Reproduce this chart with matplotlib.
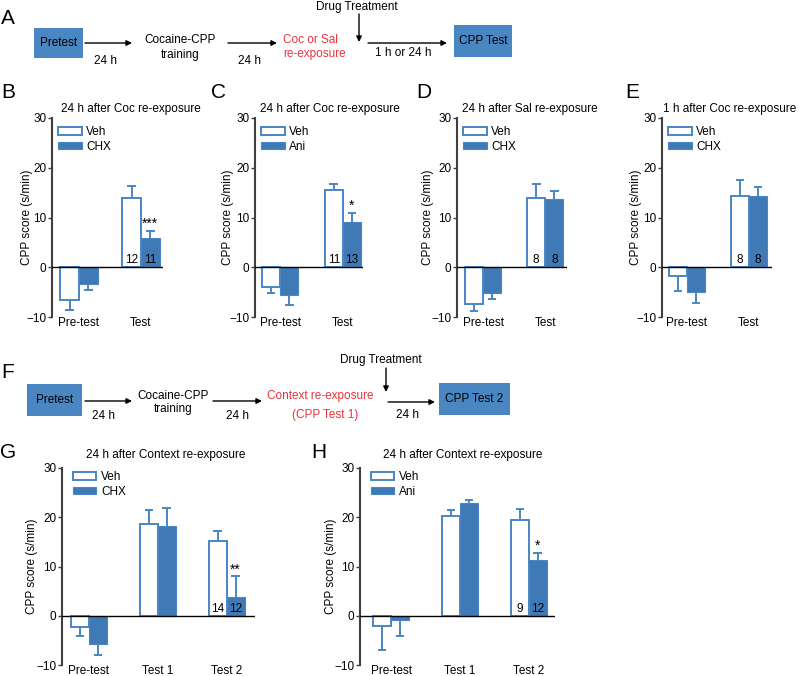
"""Cocaine-CPP reconsolidation figure: protocol schematics + CPP score bars."""

import matplotlib

matplotlib.use("Agg")
import matplotlib.pyplot as plt
import numpy as np
from matplotlib.patches import Patch, Rectangle

plt.rcParams["font.family"] = ["Liberation Sans", "DejaVu Sans"]
plt.rcParams["font.size"] = 8.5

FILL = "#3f7ab6"      # drug bars
EDGE = "#4a86c5"      # bar edges / error bars
BOX = "#4a86c2"       # schematic boxes
RED = "#e8343a"
SPINE = "#404040"

# --- data (CPP score, s/min; one-sided SEM) ---
groups_2 = ["Pre-test", "Test"]
groups_3 = ["Pre-test", "Test 1", "Test 2"]

b_veh = [-6.6, 13.9]
b_veh_err = [1.9, 2.4]
b_drug = [-3.3, 5.9]
b_drug_err = [1.2, 1.4]
b_n = [12, 11]

c_veh = [-3.9, 15.5]
c_veh_err = [1.2, 1.3]
c_drug = [-5.5, 9.0]
c_drug_err = [2.0, 2.0]
c_n = [11, 13]

d_veh = [-7.3, 13.9]
d_veh_err = [1.4, 2.9]
d_drug = [-5.1, 13.7]
d_drug_err = [1.3, 1.7]
d_n = [8, 8]

e_veh = [-1.8, 14.4]
e_veh_err = [2.9, 3.2]
e_drug = [-4.9, 14.4]
e_drug_err = [2.3, 1.7]
e_n = [8, 8]

g_veh = [-2.2, 18.6, 15.2]
g_veh_err = [1.9, 2.9, 2.1]
g_drug = [-5.7, 18.2, 3.8]
g_drug_err = [2.2, 3.6, 4.2]
g_n = [14, 12]

h_veh = [-2.0, 20.3, 19.5]
h_veh_err = [4.9, 1.2, 2.1]
h_drug = [-0.8, 22.8, 11.3]
h_drug_err = [3.3, 0.7, 1.4]
h_n = [9, 12]


def px_axes(fig, left, right, top, bottom):
    W, H = 800, 676
    return fig.add_axes([left / W, 1 - bottom / H, (right - left) / W, (bottom - top) / H])


def bar_panel(ax, labels, veh, veh_err, drug, drug_err, drug_name, n, star,
              width, xlim, ylab_x, leg_y):
    x = np.arange(len(labels))
    veh = np.array(veh); drug = np.array(drug)
    ax.bar(x - width / 2, veh, width, color="white", edgecolor=EDGE, lw=1.4, zorder=2)
    ax.bar(x + width / 2, drug, width, color=FILL, edgecolor=EDGE, lw=0.8, zorder=2)
    cw = width * 0.24
    for xs, m, e in ((x - width / 2, veh, veh_err), (x + width / 2, drug, drug_err)):
        tip = m + np.sign(m) * np.array(e)
        ax.vlines(xs, m, tip, color=EDGE, lw=1.4, zorder=1)
        ax.hlines(tip, xs - cw, xs + cw, color=EDGE, lw=1.4, zorder=1)
    ax.axhline(0, color="black", lw=1.0, zorder=3)

    # n per group inside the last pair of bars
    k = len(labels) - 1
    ax.text(x[k] - width / 2, 0.25, str(n[0]), ha="center", va="bottom", fontsize=8.5, zorder=4)
    ax.text(x[k] + width / 2, 0.25, str(n[1]), ha="center", va="bottom", fontsize=8.5, zorder=4)
    if star:
        top = drug[k] + drug_err[k]
        ax.text(x[k] + width / 2, top, star, ha="center", va="bottom", fontsize=10)

    ax.set_xlim(*xlim)
    ax.set_ylim(-10, 30)
    ax.set_yticks([-10, 0, 10, 20, 30])
    ax.set_xticks(x, labels)
    ax.tick_params(axis="x", length=0, pad=0, labelsize=8.5)
    ax.tick_params(axis="y", length=3, width=1, pad=1, labelsize=8.5, color=SPINE)
    for s in ("top", "right", "bottom"):
        ax.spines[s].set_visible(False)
    ax.spines["left"].set_color(SPINE)
    ax.spines["left"].set_linewidth(1.5)
    ax.set_ylabel("CPP score (s/min)", fontsize=8.5)
    ax.yaxis.set_label_coords(ylab_x, 0.5)
    ax.patch.set_alpha(0)

    handles = [Patch(facecolor="white", edgecolor=EDGE, lw=1.4, label="Veh"),
               Patch(facecolor=FILL, edgecolor=EDGE, lw=0.8, label=drug_name)]
    ax.legend(handles=handles, loc="upper left", bbox_to_anchor=(0.055, leg_y),
              frameon=False, fontsize=8.5, handlelength=2.0, handleheight=0.6,
              handletextpad=0.4, labelspacing=0.25, borderpad=0, borderaxespad=0)


fig = plt.figure(figsize=(8, 6.76), dpi=100)

# overlay for schematics, letters and titles (pixel coordinates)
ov = fig.add_axes([0, 0, 1, 1])
ov.set_xlim(0, 800)
ov.set_ylim(676, 0)
ov.axis("off")


def arrow(x0, y0, x1, y1):
    ov.annotate("", xy=(x1, y1), xytext=(x0, y0),
                arrowprops=dict(arrowstyle="-|>", color="black", lw=1.0,
                                mutation_scale=8, shrinkA=0, shrinkB=0))


def box(x0, x1, y0, y1, text):
    ov.add_patch(Rectangle((x0, y0), x1 - x0, y1 - y0, facecolor=BOX, edgecolor="none"))
    ov.text((x0 + x1) / 2, (y0 + y1) / 2, text, ha="center", va="center", fontsize=8.5)


# panel A
box(34, 83, 28, 58, "Pretest")
arrow(85, 43, 132, 43)
ov.text(105, 61, "24 h", ha="center", va="center")
ov.text(180, 40, "Cocaine-CPP", ha="center", va="center")
ov.text(180, 55, "training", ha="center", va="center")
arrow(228, 43, 277, 43)
ov.text(250, 61, "24 h", ha="center", va="center")
ov.text(283, 40, "Coc or Sal", ha="left", va="center", color=RED)
ov.text(283, 54, "re-exposure", ha="left", va="center", color=RED)
ov.text(357, 7, "Drug Treatment", ha="center", va="center")
arrow(359, 14, 359, 42)
arrow(368, 43, 447, 43)
ov.text(403, 53, "1 h or 24 h", ha="center", va="center")
box(454, 512, 25, 57, "CPP Test")

# panel F
box(27, 82, 384, 416, "Pretest")
arrow(85, 401, 132, 401)
ov.text(103, 416, "24 h", ha="center", va="center")
ov.text(173, 396, "Cocaine-CPP", ha="center", va="center")
ov.text(173, 409, "training", ha="center", va="center")
arrow(213, 401, 262, 401)
ov.text(237, 416, "24 h", ha="center", va="center")
ov.text(320, 396, "Context re-exposure", ha="center", va="center", color=RED)
ov.text(325, 415, "(CPP Test 1)", ha="center", va="center", color=RED)
ov.text(381, 360, "Drug Treatment", ha="center", va="center")
arrow(386, 368, 386, 392)
arrow(388, 402, 435, 402)
ov.text(407, 415, "24 h", ha="center", va="center")
box(439, 510, 383, 415, "CPP Test 2")

# panel letters and titles
for letter, lx, ly in [("A", 8, 18), ("B", 8, 93), ("C", 218, 93), ("D", 424, 93),
                       ("E", 632, 93), ("F", 8, 372), ("G", 8, 453), ("H", 319, 452)]:
    ov.text(lx, ly, letter, ha="center", va="center", fontsize=15)
for title, tx, ty in [("24 h after Coc re-exposure", 131, 109),
                      ("24 h after Coc re-exposure", 330, 109),
                      ("24 h after Sal re-exposure", 530, 109),
                      ("1 h after Coc re-exposure", 730, 109),
                      ("24 h after Context re-exposure", 166, 455),
                      ("24 h after Context re-exposure", 463, 455)]:
    ov.text(tx, ty, title, ha="center", va="center", fontsize=8.5)

axB = px_axes(fig, 52, 163, 118, 317)
bar_panel(axB, groups_2, b_veh, b_veh_err, b_drug, b_drug_err, "CHX", b_n, "***",
          0.30, (-0.435, 1.355), -0.175, 0.96)
axC = px_axes(fig, 255, 363, 118, 317)
bar_panel(axC, groups_2, c_veh, c_veh_err, c_drug, c_drug_err, "Ani", c_n, "*",
          0.29, (-0.40, 1.32), -0.19, 0.96)
axD = px_axes(fig, 457, 567, 118, 317)
bar_panel(axD, groups_2, d_veh, d_veh_err, d_drug, d_drug_err, "CHX", d_n, None,
          0.29, (-0.42, 1.35), -0.205, 0.96)
axE = px_axes(fig, 662, 772, 118, 317)
bar_panel(axE, groups_2, e_veh, e_veh_err, e_drug, e_drug_err, "CHX", e_n, None,
          0.29, (-0.40, 1.37), -0.185, 0.96)
axG = px_axes(fig, 62, 255, 468, 665)
bar_panel(axG, groups_3, g_veh, g_veh_err, g_drug, g_drug_err, "CHX", g_n, "**",
          0.26, (-0.39, 2.41), -0.122, 0.985)
axH = px_axes(fig, 360, 555, 468, 665)
bar_panel(axH, groups_3, h_veh, h_veh_err, h_drug, h_drug_err, "Ani", h_n, "*",
          0.26, (-0.45, 2.38), -0.116, 0.985)

fig.savefig("out.png", dpi=100)
